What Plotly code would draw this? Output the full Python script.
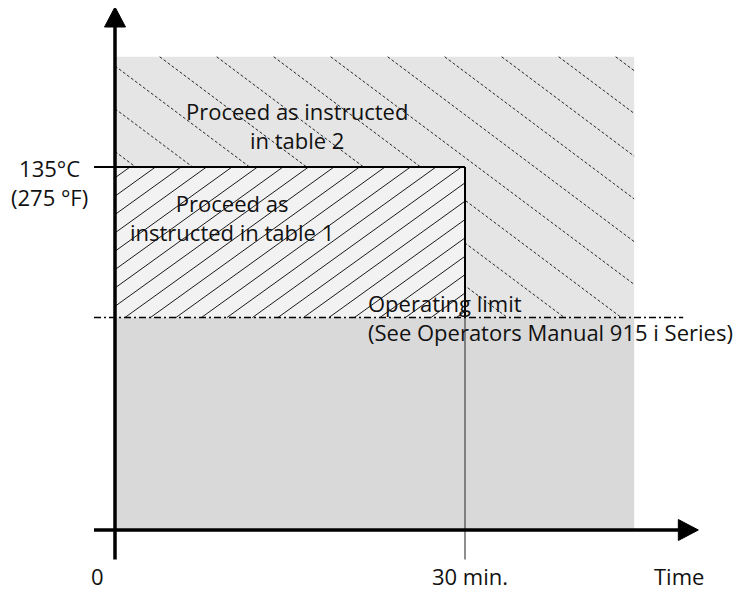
import numpy as np
import plotly.graph_objects as go

# chart values (time in minutes, temperature in degC)
time_marks = [0, 30]
time_labels = ["0", "30 min."]
time_axis_label = "Time"
temp_limit = 135
temp_limit_labels = ["135°C", "(275 °F)"]
temp_operating = 79
zone_time_end = 44.5
zone_temp_top = 176
axis_time_span = [-1.8, 50.0]
axis_temp_span = [-11, 194.5]

zone_texts = {
    'table2': "Proceed as instructed<br>in table 2",
    'table1': "Proceed as<br>instructed in table 1",
    'operating': "Operating limit<br>(See Operators Manual 915 i Series)",
}

# figure geometry: the page puts the plot 8px in from the top-left corner
PAGE_PAD = 8
W, H = 746 - PAGE_PAD, 592 - PAGE_PAD
ORIGIN_PX = (115 - PAGE_PAD, 530 - PAGE_PAD)
PX_PER_MIN = 350 / 30
PX_PER_DEG = 363 / 135

x_range = [-ORIGIN_PX[0] / PX_PER_MIN, (W - ORIGIN_PX[0]) / PX_PER_MIN]
y_range = [(ORIGIN_PX[1] - H) / PX_PER_DEG, ORIGIN_PX[1] / PX_PER_DEG]

FONT = dict(family="Open Sans, Noto Sans, sans-serif", size=22, color="#111")


def to_px(t, T):
    return ORIGIN_PX[0] + t * PX_PER_MIN, ORIGIN_PX[1] - T * PX_PER_DEG


def to_data(px, py):
    return (px - ORIGIN_PX[0]) / PX_PER_MIN, (ORIGIN_PX[1] - py) / PX_PER_DEG


def box(t0, t1, T0, T1):
    return [t0, t1, t1, t0, t0], [T0, T0, T1, T1, T0]


def hatch(t0, t1, T0, T1, slope, step, phase, up):
    # slope in screen pixels; up=True means '/' lines, else '\'
    x0, y1 = to_px(t0, T0)
    x1, y0 = to_px(t1, T1)
    m = -slope if up else slope
    xs, ys = [], []
    cs = [y0 - m * x0, y0 - m * x1, y1 - m * x0, y1 - m * x1]
    dc = slope * step
    k0 = int(np.floor((min(cs) - phase) / dc)) - 1
    k1 = int(np.ceil((max(cs) - phase) / dc)) + 1
    for k in range(k0, k1 + 1):
        c = phase + k * dc
        # x where line hits the top / bottom
        xa = (y0 - c) / m
        xb = (y1 - c) / m
        lo = max(x0, min(xa, xb))
        hi = min(x1, max(xa, xb))
        if hi - lo < 1:
            continue
        for px in (lo, hi):
            t, T = to_data(px, c + m * px)
            xs.append(t)
            ys.append(T)
        xs.append(None)
        ys.append(None)
    return xs, ys


def add_fill(fig, t0, t1, T0, T1, color):
    bx, by = box(t0, t1, T0, T1)
    fig.add_trace(go.Scatter(x=bx, y=by, fill='toself', fillcolor=color,
                             mode='lines', line=dict(width=0), hoverinfo='skip'))


def add_line(fig, xs, ys, width, color, dash='solid'):
    fig.add_trace(go.Scatter(x=xs, y=ys, mode='lines', hoverinfo='skip',
                             line=dict(width=width, color=color, dash=dash)))


def add_arrow(fig, t, T, direction, length=20, half=10.5):
    px, py = to_px(t, T)
    if direction == 'up':
        pts = [(px, py), (px - half, py + length), (px + half, py + length)]
    else:
        pts = [(px, py), (px - length, py - half), (px - length, py + half)]
    pts.append(pts[0])
    d = [to_data(*p) for p in pts]
    fig.add_trace(go.Scatter(x=[p[0] for p in d], y=[p[1] for p in d],
                             fill='toself', fillcolor='black', mode='lines',
                             line=dict(width=1, color='black'), hoverinfo='skip'))


fig = go.Figure()

# background zones
add_fill(fig, 0, zone_time_end, temp_operating, zone_temp_top, '#e5e5e5')
add_fill(fig, 0, zone_time_end, 0, temp_operating, '#d9d9d9')

# dashed hatch of the upper zone
hx, hy = hatch(0, zone_time_end, temp_operating, zone_temp_top,
               slope=0.75, step=57, phase=49 - 0.75 * 152, up=False)
add_line(fig, hx, hy, 1, '#2a2a2a', dash='3px,2px')

# table 1 zone
add_fill(fig, 0, time_marks[1], temp_operating, temp_limit, '#f2f2f2')
hx, hy = hatch(0, time_marks[1], temp_operating, temp_limit,
               slope=0.72, step=25.5, phase=159 + 0.72 * 122, up=True)
add_line(fig, hx, hy, 1, '#1a1a1a')

# 30 min line and table 1 border
add_line(fig, [time_marks[1], time_marks[1]], [axis_temp_span[0], temp_operating], 1.2, '#444')
add_line(fig, [time_marks[1], time_marks[1]], [temp_operating, temp_limit], 2, 'black')
add_line(fig, [axis_time_span[0], time_marks[1]], [temp_limit, temp_limit], 2, 'black')

# operating limit
add_line(fig, [axis_time_span[0], 48.7], [temp_operating, temp_operating], 1.5, 'black',
         dash='7px,3px,2px,3px')

# axes
add_line(fig, [axis_time_span[0], axis_time_span[1] - 20 / PX_PER_MIN], [0, 0], 3.5, 'black')
add_line(fig, [0, 0], [axis_temp_span[0], axis_temp_span[1] - 20 / PX_PER_DEG], 3.5, 'black')
add_arrow(fig, axis_time_span[1], 0, 'right')
add_arrow(fig, 0, axis_temp_span[1], 'up')

annotations = [
    dict(x=15.6, y=150.3, text=zone_texts['table2']),
    dict(x=10.0, y=116.2, text=zone_texts['table1']),
    dict(x=21.5, y=79.0, text=zone_texts['operating'], xanchor='left', align='left'),
    dict(x=-5.6, y=129.4, text="<br>".join(temp_limit_labels)),
    dict(x=-1.5, y=-17.0, text=time_labels[0]),
    dict(x=time_marks[1] + 0.4, y=-17.0, text=time_labels[1]),
    dict(x=48.3, y=-17.0, text=time_axis_label),
]
for a in annotations:
    a.setdefault('xanchor', 'center')
    a.setdefault('align', 'center')
    fig.add_annotation(xref='x', yref='y', yanchor='middle', showarrow=False,
                       font=FONT, **a)

fig.update_layout(
    width=W, height=H, autosize=False,
    margin=dict(l=0, r=0, t=0, b=0),
    paper_bgcolor='white', plot_bgcolor='white',
    showlegend=False,
    xaxis=dict(range=x_range, visible=False, fixedrange=True),
    yaxis=dict(range=y_range, visible=False, fixedrange=True),
)

fig.write_html("out.html")
